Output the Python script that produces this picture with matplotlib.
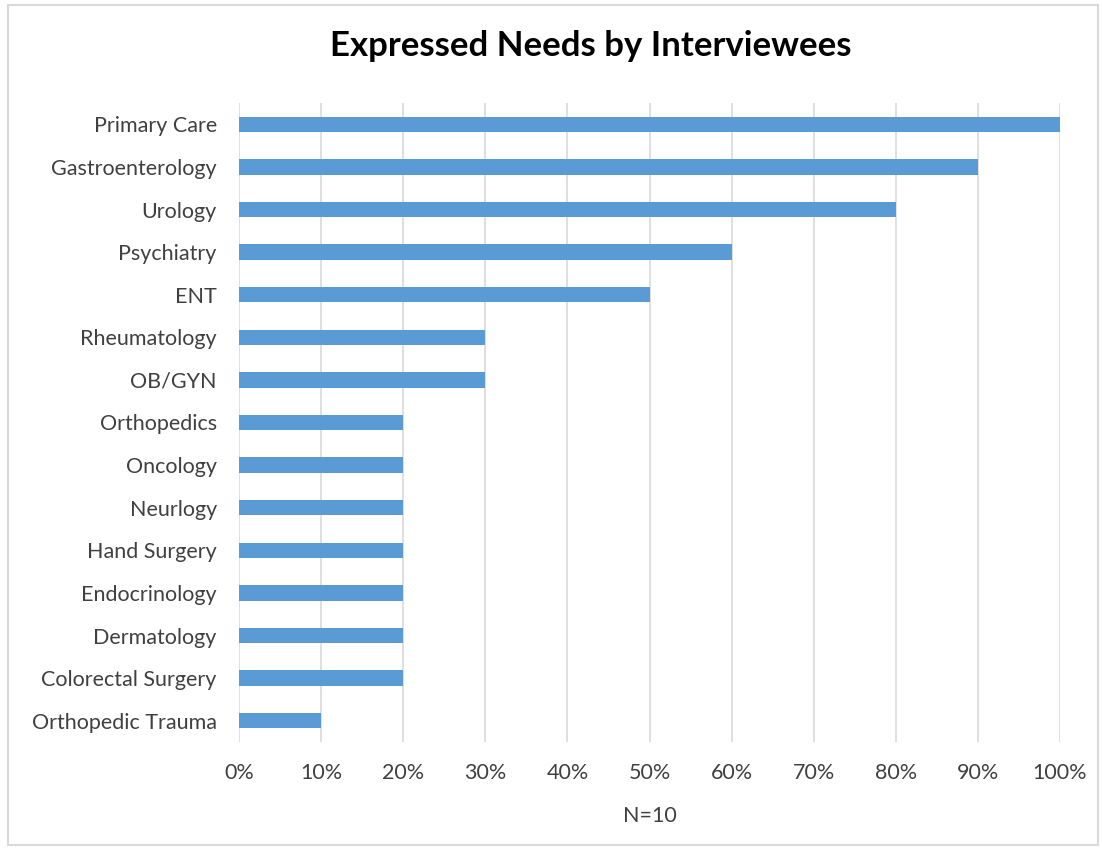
import matplotlib.pyplot as plt
from matplotlib.patches import Rectangle
from matplotlib.ticker import PercentFormatter

categories = ["Primary Care", "Gastroenterology", "Urology", "Psychiatry", "ENT",
              "Rheumatology", "OB/GYN", "Orthopedics", "Oncology", "Neurlogy",
              "Hand Surgery", "Endocrinology", "Dermatology", "Colorectal Surgery",
              "Orthopedic Trauma"]
values = [100, 90, 80, 60, 50, 30, 30, 20, 20, 20, 20, 20, 20, 20, 10]
xticks = list(range(0, 101, 10))

plt.rcParams['font.family'] = ['Lato', 'DejaVu Sans']
text_col = '#404040'

fig = plt.figure(figsize=(11.02, 8.5), dpi=100)
fig.patches.append(Rectangle((8 / 1102, 5 / 850), 1090 / 1102, 840 / 850,
                             transform=fig.transFigure, fill=False,
                             edgecolor='#d9d9d9', linewidth=1.5))

ax = fig.add_axes([239 / 1102, 1 - 742 / 850, 821 / 1102, 639 / 850])
ypos = list(range(len(categories)))
ax.barh(ypos, values, height=0.36, color='#5b9bd5', zorder=3)
ax.set_ylim(len(categories) - 0.5, -0.5)
ax.set_yticks(ypos)
ax.set_yticklabels(categories, fontsize=15.5, color=text_col)
ax.set_xlim(0, 100)
ax.set_xticks(xticks)
ax.xaxis.set_major_formatter(PercentFormatter(decimals=0))
ax.tick_params(axis='x', labelsize=15.5, colors=text_col, length=0, pad=15)
ax.tick_params(axis='y', length=0, pad=16)
ax.grid(axis='x', color='#d9d9d9', linewidth=1.2, zorder=0)
for s in ax.spines.values():
    s.set_visible(False)
ax.set_xlabel('N=10', fontsize=15.5, color=text_col, labelpad=17)

fig.text(591 / 1102, 1 - 46 / 850, 'Expressed Needs by Interviewees',
         ha='center', va='center', fontsize=25, fontweight='bold', color='#000000')

fig.savefig('out.png', dpi=100)
